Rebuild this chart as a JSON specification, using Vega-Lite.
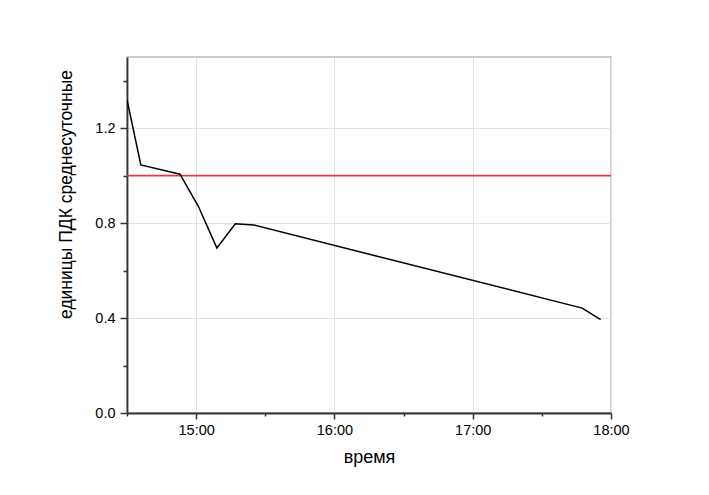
{
  "$schema": "https://vega.github.io/schema/vega-lite/v6.json",
  "width": 484,
  "height": 356,
  "autosize": {"type": "none"},
  "padding": {"left": 127, "top": 57, "right": 98, "bottom": 82},
  "background": "white",
  "config": {
    "view": {"stroke": "#bdbdbd", "strokeWidth": 1.5},
    "font": "Liberation Sans"
  },
  "datasets": {
    "series": [
      {"t": "2000-01-01T14:30:00", "v": 1.32},
      {"t": "2000-01-01T14:36:00", "v": 1.045},
      {"t": "2000-01-01T14:53:00", "v": 1.006},
      {"t": "2000-01-01T15:01:00", "v": 0.87},
      {"t": "2000-01-01T15:09:00", "v": 0.695},
      {"t": "2000-01-01T15:17:00", "v": 0.797},
      {"t": "2000-01-01T15:25:00", "v": 0.792},
      {"t": "2000-01-01T17:47:30", "v": 0.442},
      {"t": "2000-01-01T17:55:30", "v": 0.393}
    ],
    "limit": [{"pdk": 1.0}]
  },
  "layer": [
    {
      "data": {"name": "limit"},
      "mark": {"type": "rule", "color": "#e83a36", "strokeWidth": 1.8},
      "encoding": {"y": {"field": "pdk", "type": "quantitative"}}
    },
    {
      "data": {"name": "series"},
      "mark": {"type": "line", "color": "black", "strokeWidth": 1.5, "clip": true},
      "encoding": {
        "x": {
          "field": "t",
          "type": "temporal",
          "scale": {
            "domain": [
              {"year": 2000, "month": 1, "date": 1, "hours": 14, "minutes": 30},
              {"year": 2000, "month": 1, "date": 1, "hours": 18, "minutes": 0}
            ],
            "nice": false
          },
          "axis": {
            "title": "время",
            "titleFontSize": 18,
            "titleFontWeight": "normal",
            "titleColor": "black",
            "titlePadding": 12,
            "format": "%H:%M",
            "values": [
              {"year": 2000, "month": 1, "date": 1, "hours": 14, "minutes": 30},
              {"year": 2000, "month": 1, "date": 1, "hours": 15, "minutes": 0},
              {"year": 2000, "month": 1, "date": 1, "hours": 15, "minutes": 30},
              {"year": 2000, "month": 1, "date": 1, "hours": 16, "minutes": 0},
              {"year": 2000, "month": 1, "date": 1, "hours": 16, "minutes": 30},
              {"year": 2000, "month": 1, "date": 1, "hours": 17, "minutes": 0},
              {"year": 2000, "month": 1, "date": 1, "hours": 17, "minutes": 30},
              {"year": 2000, "month": 1, "date": 1, "hours": 18, "minutes": 0}
            ],
            "labelExpr": "minutes(datum.value) == 0 ? timeFormat(datum.value, '%H:%M') : ''",
            "labelFontSize": 14.5,
            "labelColor": "black",
            "labelPadding": 4,
            "labelFlush": false,
            "labelOverlap": false,
            "domainColor": "#333333",
            "domainWidth": 1.8,
            "tickColor": "#333333",
            "tickWidth": 1.5,
            "tickSize": {"condition": {"test": "minutes(datum.value) == 0", "value": 6}, "value": 3},
            "grid": true,
            "gridColor": "#e2e2e2",
            "gridWidth": 1,
            "gridOpacity": {"condition": {"test": "minutes(datum.value) == 0", "value": 1}, "value": 0}
          }
        },
        "y": {
          "field": "v",
          "type": "quantitative",
          "scale": {"domain": [0, 1.5], "nice": false, "zero": true},
          "axis": {
            "title": "единицы ПДК среднесуточные",
            "titleFontSize": 17.5,
            "titleFontWeight": "normal",
            "titleColor": "black",
            "titleX": -61,
            "titleY": 137,
            "titleBaseline": "middle",
            "titleAlign": "center",
            "titleAngle": -90,
            "values": [0, 0.2, 0.4, 0.6, 0.8, 1.0, 1.2, 1.4],
            "labelExpr": "round(datum.value * 10) % 4 == 0 ? format(datum.value, '.1f') : ''",
            "labelFontSize": 14.5,
            "labelColor": "black",
            "labelPadding": 5,
            "labelFlush": false,
            "labelOverlap": false,
            "domainColor": "#333333",
            "domainWidth": 1.8,
            "tickColor": "#333333",
            "tickWidth": 1.5,
            "tickSize": {"condition": {"test": "round(datum.value * 10) % 4 == 0", "value": 7}, "value": 4},
            "grid": true,
            "gridColor": "#e2e2e2",
            "gridWidth": 1,
            "gridOpacity": {"condition": {"test": "round(datum.value * 10) % 4 == 0 && datum.value > 0", "value": 1}, "value": 0}
          }
        }
      }
    }
  ]
}
